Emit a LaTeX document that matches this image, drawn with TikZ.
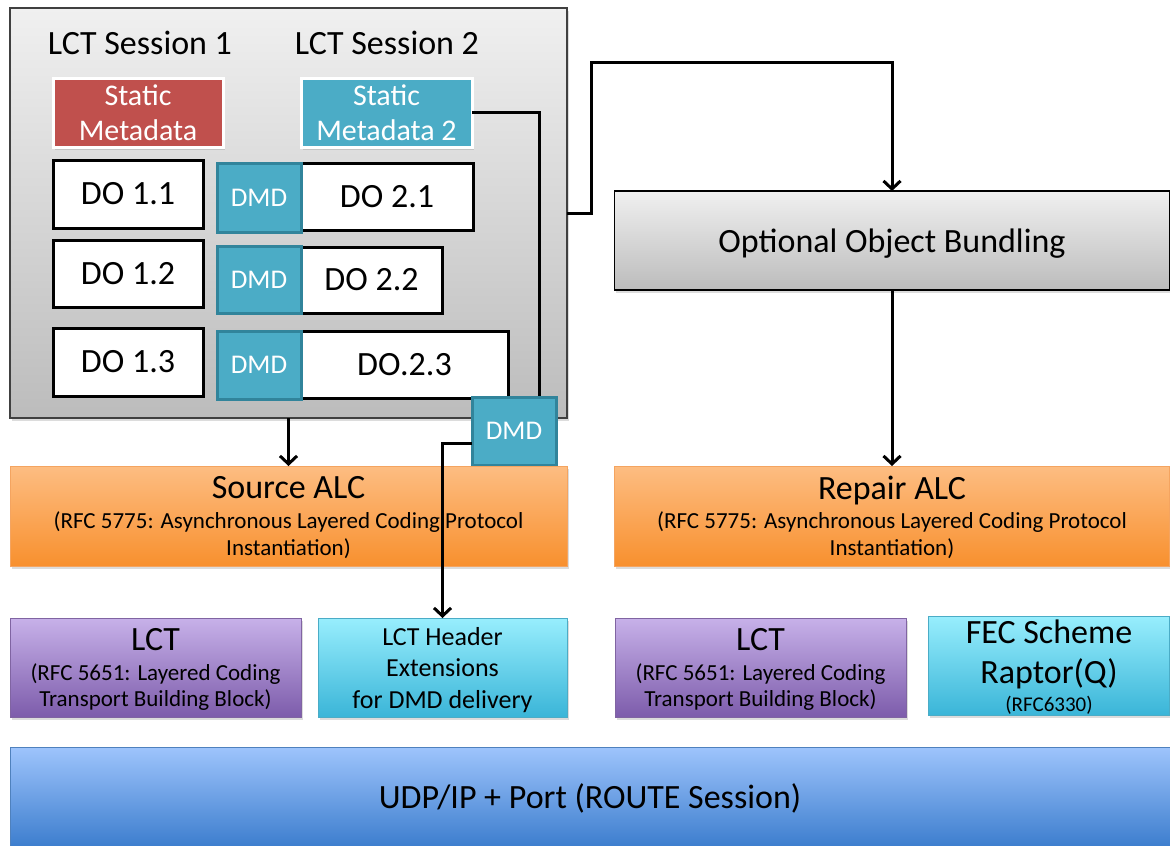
\documentclass[tikz,border=0pt]{standalone}
\usepackage{fontspec}
\setmainfont{Carlito}
\usetikzlibrary{arrows.meta,shadows,calc}
\definecolor{grayT}{HTML}{F0F0F0}
\definecolor{grayB}{HTML}{BCBCBC}
\definecolor{smred}{HTML}{C0504D}
\definecolor{teal}{HTML}{4BACC6}
\definecolor{tealdark}{HTML}{31849B}
\definecolor{orT}{HTML}{FDBD82}
\definecolor{orB}{HTML}{F8902E}
\definecolor{orD}{HTML}{F4A460}
\definecolor{puT}{HTML}{C7B1E9}
\definecolor{puB}{HTML}{7D5CAB}
\definecolor{puD}{HTML}{8064A2}
\definecolor{cyT}{HTML}{98EEFD}
\definecolor{cyB}{HTML}{3AB5D8}
\definecolor{cyD}{HTML}{4BACC6}
\definecolor{blT}{HTML}{9EC4FC}
\definecolor{blB}{HTML}{3D7ECE}
\definecolor{blD}{HTML}{4F81BD}
\tikzset{
  base/.style={rectangle, inner sep=0pt, outer sep=0pt, align=center},
  shd/.style={drop shadow={opacity=0.28, shadow xshift=1.5pt, shadow yshift=-2.5pt}},
  layer/.style n args={3}{base, shd, draw=#3, line width=1pt, top color=#1, bottom color=#2, text depth=0pt},
  f34/.style={font=\fontsize{34}{37}\selectfont},
  dobox/.style={base, draw=black, line width=3pt, fill=white, f34},
  dmdbox/.style={base, draw=tealdark, line width=3pt, fill=teal, text=white,
    font=\fontsize{27}{27}\selectfont, minimum width=84pt},
  smbox/.style={base, shd, draw=white, line width=3pt, text=white,
    font=\fontsize{30}{35}\selectfont, minimum width=170pt, minimum height=69pt},
  conn/.style={line width=3pt},
  arr/.style={conn, -{Straight Barb[length=8pt,width=17pt]}},
  sub/.style={font=\fontsize{23}{27}\selectfont}
}
\begin{document}
\begin{tikzpicture}[x=1pt,y=-1pt]
\useasboundingbox (0,0) rectangle (1170,846);
% outer session container
\node[base, shd, draw=black!75, line width=1.2pt, top color=grayT, bottom color=grayB,
  minimum width=557pt, minimum height=410pt] (outer) at (288.5,213) {};
\node[f34] (ses1) at (140,43) {LCT Session 1};
\node[f34] (ses2) at (387,43) {LCT Session 2};
\node[smbox, fill=smred] (sm1) at (138,112.5) {Static\\Metadata};
\node[smbox, fill=teal, minimum width=171pt] (sm2) at (386.5,112.5) {Static\\Metadata 2};
% session 1 objects
\node[dobox, minimum width=150pt, minimum height=68pt] (do11) at (128,194) {DO 1.1};
\node[dobox, minimum width=150pt, minimum height=67pt] (do12) at (128,273.5) {DO 1.2};
\node[dobox, minimum width=150pt, minimum height=68pt] (do13) at (128,362) {DO 1.3};
% session 2 objects
\node[dobox, minimum width=172pt, minimum height=67pt] (do21) at (387,196.5) {DO 2.1};
\node[dobox, minimum width=141pt, minimum height=66pt] (do22) at (371.5,280) {DO 2.2};
\node[dobox, minimum width=207pt, minimum height=67pt] (do23) at (404.5,364.5) {DO.2.3};
\node[dmdbox, minimum height=69pt] (dmd1) at (259,197.5) {DMD};
\node[dmdbox, minimum height=67pt] (dmd2) at (259,279.5) {DMD};
\node[dmdbox, minimum height=68pt] (dmd3) at (259,365) {DMD};
% line from static metadata 2 to detached DMD
\coordinate (c1) at (539,397);
\draw[conn] (sm2.east) -| (c1);
\node[dmdbox, minimum height=68pt] (dmd4) at (514,431) {DMD};
% right-hand bundling
\node[base, shd, draw=black, line width=1.2pt, top color=grayT, bottom color=grayB, f34, text depth=0pt,
  minimum width=555pt, minimum height=99pt] (oob) at (892,240.5) {Optional Object Bundling};
% ALC layer
\node[layer={orT}{orB}{orD}, sub, text depth=-4pt, minimum width=557pt, minimum height=100pt] (salc) at (288.5,516)
  {{\fontsize{34}{34}\selectfont Source ALC}\\[2.5pt](RFC 5775: Asynchronous Layered Coding Protocol\\Instantiation)};
\node[layer={orT}{orB}{orD}, sub, text depth=-4pt, minimum width=555pt, minimum height=100pt] (ralc) at (892,516)
  {{\fontsize{34}{34}\selectfont Repair ALC}\\[2.5pt](RFC 5775: Asynchronous Layered Coding Protocol\\Instantiation)};
% LCT layer
\node[layer={puT}{puB}{puD}, font=\fontsize{23}{26}\selectfont, text depth=-4pt, minimum width=291pt, minimum height=99pt] (lct1) at (155.5,667.5)
  {{\fontsize{34}{34}\selectfont LCT}\\[4.5pt](RFC 5651: Layered Coding\\Transport Building Block)};
\node[layer={cyT}{cyB}{cyD}, font=\fontsize{26}{31.5}\selectfont, minimum width=249pt, minimum height=99pt] (lcth) at (442.5,667.5)
  {LCT Header\\Extensions\\for DMD delivery};
\node[layer={puT}{puB}{puD}, font=\fontsize{23}{26}\selectfont, text depth=-4pt, minimum width=291pt, minimum height=99pt] (lct2) at (760.5,667.5)
  {{\fontsize{34}{34}\selectfont LCT}\\[4.5pt](RFC 5651: Layered Coding\\Transport Building Block)};
\node[layer={cyT}{cyB}{cyD}, font=\fontsize{34}{40}\selectfont, minimum width=241pt, minimum height=99pt] (fec) at (1049,665.5)
  {FEC Scheme\\Raptor(Q)\\[-12pt]{\fontsize{21}{21}\selectfont (RFC6330)}};
% IP layer
\node[layer={blT}{blB}{blD}, f34, minimum width=1160pt, minimum height=99pt] (udp) at (590,796.5)
  {UDP/IP + Port (ROUTE Session)};
% connectors
\coordinate (c2) at (591,62);
\draw[arr] (outer.east) -- (outer.east -| c2) -- (c2) -| (oob.north);
\draw[arr] (oob.south) -- (ralc.north);
\draw[arr] (outer.south) -- (salc.north);
\draw[arr] ([yshift=-12pt]dmd4.west) -| (lcth.north);
\end{tikzpicture}
\end{document}
